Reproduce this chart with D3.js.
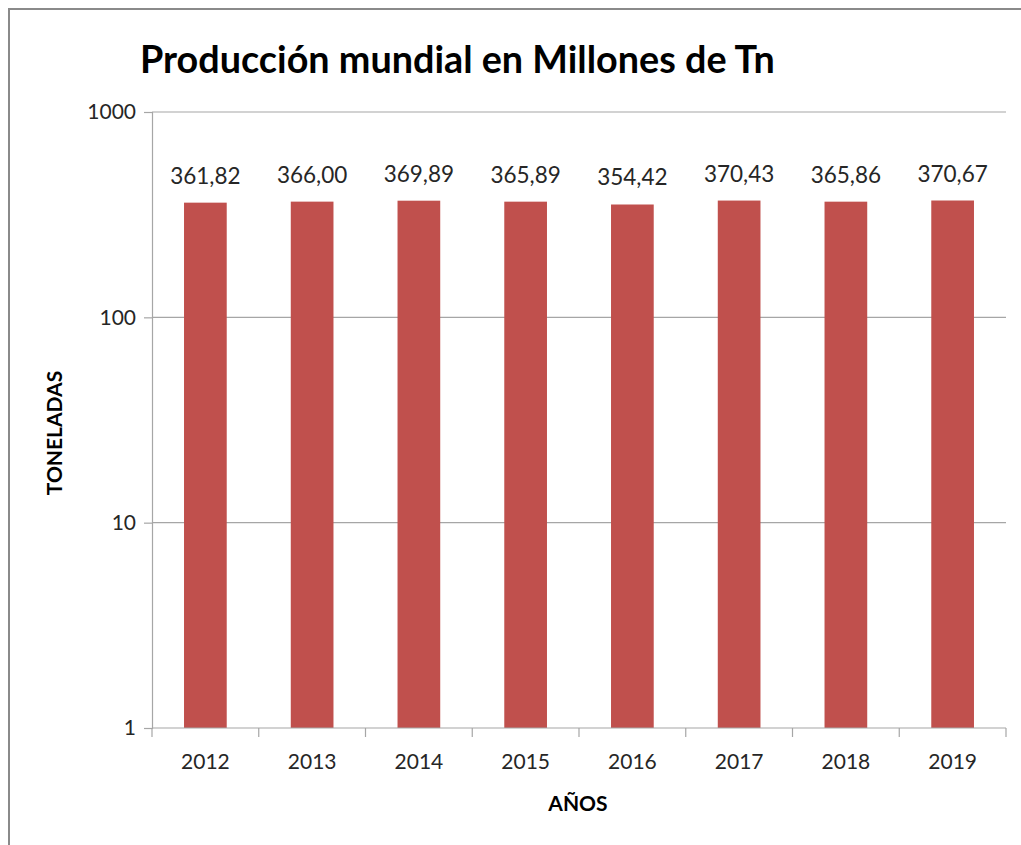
<!DOCTYPE html>
<html><head><meta charset="utf-8">
<script src="https://cdn.jsdelivr.net/npm/d3@7"></script>
<style>
body{margin:0;background:#fff;}
svg{display:block;font-family:Lato,"Open Sans",sans-serif;}
</style></head>
<body>
<svg id="c" width="1021" height="845"></svg>
<script>
const years = ["2012","2013","2014","2015","2016","2017","2018","2019"];
const values = [361.82,366.00,369.89,365.89,354.42,370.43,365.86,370.67];
const yTicks = [1,10,100,1000];
const title = "Producción mundial en Millones de Tn";
const xTitle = "AÑOS";
const yTitle = "TONELADAS";

const svg = d3.select("#c");
const m = {left:152, right:1006, top:112, bottom:728};

// outer border (top and left visible)
svg.append("path").attr("d","M9,845 V9 H1021").attr("fill","none").attr("stroke","#8a8a8a").attr("stroke-width",2);

const x = d3.scaleBand().domain(years).range([m.left,m.right]).paddingInner(0.6).paddingOuter(0.3);
const xOuter = d3.scaleBand().domain(years).range([m.left,m.right]);
const y = d3.scaleLog().domain([1,1000]).range([m.bottom,m.top]);

// gridlines
svg.append("g").selectAll("line").data(yTicks.slice(1)).join("line")
  .attr("x1",m.left).attr("x2",m.right).attr("y1",d=>y(d)).attr("y2",d=>y(d))
  .attr("stroke","#a6a6a6").attr("stroke-width",1.2);

// y axis
const ya = svg.append("g").attr("transform",`translate(${m.left},0)`)
  .call(d3.axisLeft(y).tickValues(yTicks).tickFormat(d3.format("d")).tickSize(8).tickPadding(8));
ya.select(".domain").attr("stroke","#a6a6a6").attr("stroke-width",1.2);
ya.selectAll(".tick line").attr("stroke","#a6a6a6").attr("stroke-width",1.2);
ya.selectAll("text").attr("font-size",21).attr("fill","#262626").attr("font-family","Lato");

// bars
svg.append("g").selectAll("rect").data(values).join("rect")
  .attr("x",(d,i)=>x(years[i])).attr("width",x.bandwidth())
  .attr("y",d=>y(d)).attr("height",d=>y(1)-y(d))
  .attr("fill","#c0504d");

// x axis
const xa = svg.append("g").attr("transform",`translate(0,${m.bottom})`)
  .call(d3.axisBottom(x).tickSize(0).tickPadding(26));
xa.select(".domain").remove();
xa.selectAll("text").attr("font-size",21).attr("fill","#262626").attr("font-family","Lato");
svg.append("line").attr("x1",m.left).attr("x2",m.right).attr("y1",m.bottom).attr("y2",m.bottom)
  .attr("stroke","#a6a6a6").attr("stroke-width",1.2);
const bounds = years.map(d=>xOuter(d)).concat([m.right]);
svg.append("g").selectAll("line").data(bounds).join("line")
  .attr("x1",d=>d).attr("x2",d=>d).attr("y1",m.bottom).attr("y2",m.bottom+9)
  .attr("stroke","#a6a6a6").attr("stroke-width",1.2);

// data labels
const fmt = v => v.toFixed(2).replace(".",",");
svg.append("g").selectAll("text").data(values).join("text")
  .attr("x",(d,i)=>x(years[i])+x.bandwidth()/2).attr("y",d=>y(d)-19)
  .attr("text-anchor","middle").attr("font-size",22.5).attr("fill","#262626")
  .text(fmt);

// title
const t = svg.append("text").attr("x",140).attr("y",73).attr("font-size",34)
  .attr("font-weight","bold").attr("fill","#000").text(title);
const w = t.node().getComputedTextLength();
t.attr("font-size",34*635/w);

// axis titles
svg.append("text").attr("x",578).attr("y",811).attr("text-anchor","middle")
  .attr("font-size",21).attr("font-weight","bold").attr("fill","#000").text(xTitle);
svg.append("text").attr("transform","translate(62,433) rotate(-90)").attr("text-anchor","middle")
  .attr("font-size",21).attr("font-weight","bold").attr("fill","#000").text(yTitle);
</script>
</body></html>
